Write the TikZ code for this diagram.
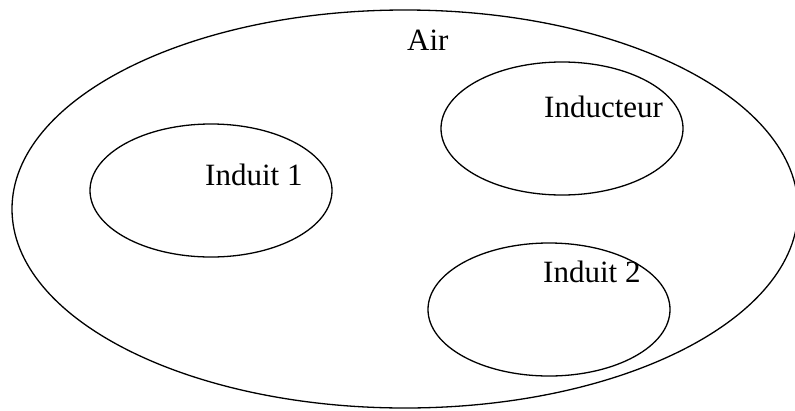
\documentclass[tikz,border=0pt]{standalone}
\usepackage{fontspec}
\setmainfont{Liberation Serif}
\usetikzlibrary{shapes.geometric}
\begin{document}
\begin{tikzpicture}[x=1pt,y=-1pt,
  region/.style={draw, line width=1.3pt, ellipse, inner sep=0pt},
  part/.style={region, minimum width=242pt, minimum height=133pt},
  lbl/.style={anchor=base west, inner sep=0pt, font=\fontsize{31}{37}\selectfont}]
  \useasboundingbox (0,0) rectangle (795,410);
  \clip (0,0) rectangle (795,410);
  % outer domain
  \node[region, minimum width=786pt, minimum height=398pt] (air) at (405,209) {};
  % sub-domains
  \node[part] (induit1) at (211,190.5) {};
  \node[part] (inducteur) at (562,128.5) {};
  \node[part] (induit2) at (549,309.5) {};
  % labels
  \node[lbl] (tair) at (407,50) {Air};
  \node[lbl] (tinducteur) at (544,117) {Inducteur};
  \node[lbl] (tinduit1) at (205,185) {Induit 1};
  \node[lbl] (tinduit2) at (543,282) {Induit 2};
\end{tikzpicture}
\end{document}
